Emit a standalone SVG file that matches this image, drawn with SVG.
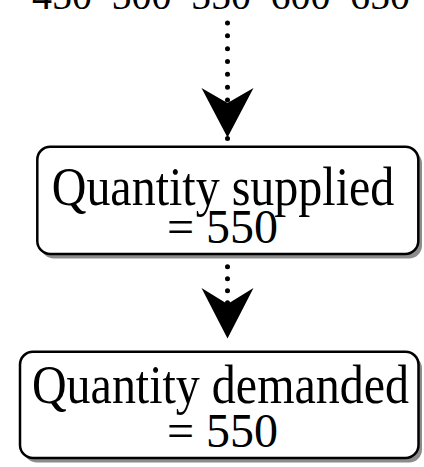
<svg xmlns="http://www.w3.org/2000/svg" width="424" height="467" viewBox="0 0 424 467">
  <style>
    .lbl { font-family: "Liberation Serif", "Times New Roman", serif; fill: #000; text-anchor: middle; }
    .tick { font-size: 40px; }
    .big { font-size: 48px; }
    .box { fill: #fff; stroke: #000; stroke-width: 2.5; }
    .shadow { fill: #8c8c8c; }
    .dots { stroke: #000; stroke-width: 5; stroke-linecap: round; fill: none; }
    .head { fill: #000; }
  </style>
  <rect width="424" height="467" fill="#fff"/>

  <!-- axis tick labels along the top edge -->
  <g id="ticks">
    <text class="lbl tick" x="62" y="8.5">450</text>
    <text class="lbl tick" x="141.5" y="8.5">500</text>
    <text class="lbl tick" x="221" y="8.5">550</text>
    <text class="lbl tick" x="300.5" y="8.5">600</text>
    <text class="lbl tick" x="380" y="8.5">650</text>
  </g>

  <!-- dotted arrows -->
  <g id="connectors">
    <line class="dots" x1="227.5" y1="23" x2="227.5" y2="138.5" stroke-dasharray="0 12.83"/>
    <polygon class="head" points="201.5,88 227.5,103 253.5,88 227.5,137.5"/>
    <line class="dots" x1="227.5" y1="266.7" x2="227.5" y2="339" stroke-dasharray="0 12.05"/>
    <polygon class="head" points="201.5,288 227.5,304 253.5,288 227.5,338.5"/>
  </g>

  <g id="supplied">
    <rect class="shadow" x="41" y="150.5" width="381" height="108" rx="13"/>
    <rect class="box" x="37.3" y="146.7" width="381" height="107.3" rx="13"/>
    <text class="lbl big" transform="translate(223,204.5) scale(1,1.13)">Quantity supplied</text>
    <text class="lbl big" x="222.5" y="242.5">= 550</text>
  </g>

  <g id="demanded">
    <rect class="shadow" x="24" y="355.5" width="398" height="107" rx="13"/>
    <rect class="box" x="20" y="351.7" width="398.5" height="106.3" rx="13"/>
    <text class="lbl big" transform="translate(220.5,403) scale(1,1.13)">Quantity demanded</text>
    <text class="lbl big" x="222.5" y="446.5">= 550</text>
  </g>
</svg>
